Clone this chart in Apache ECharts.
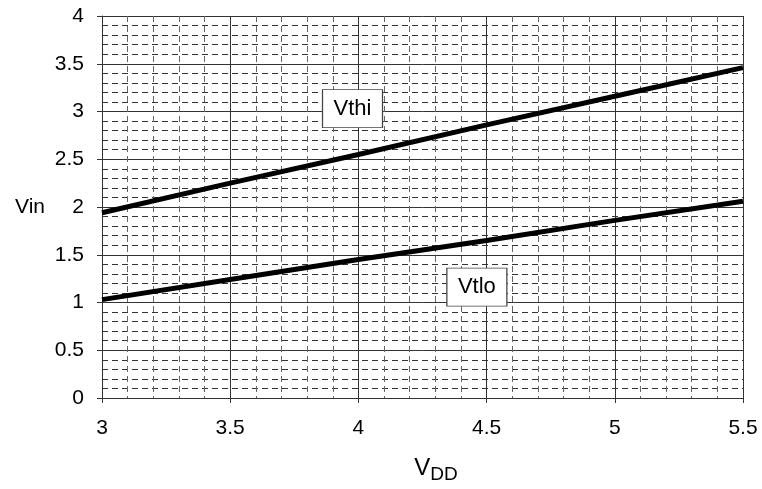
<!DOCTYPE html>
<html><head><meta charset="utf-8">
<script src="https://cdn.jsdelivr.net/npm/echarts@6/dist/echarts.min.js"></script>
<style>html,body{margin:0;padding:0;background:#fff}#c{width:762px;height:489px}</style>
</head><body><div id="c"></div>
<script>
const vdd = [3, 3.5, 4, 4.5, 5, 5.5];
const vthi = [1.94, 2.25, 2.55, 2.86, 3.16, 3.46];
const vtlo = [1.03, 1.24, 1.45, 1.65, 1.86, 2.06];
const xTicks = [3, 3.5, 4, 4.5, 5, 5.5];
const yTicks = [0, 0.5, 1, 1.5, 2, 2.5, 3, 3.5, 4];
const labelVthi = {name: 'Vthi', coord: [3.977, 3.03]};
const labelVtlo = {name: 'Vtlo', coord: [4.462, 1.16]};

const font = 'Liberation Sans, Arial, sans-serif';
const chart = echarts.init(document.getElementById('c'));
function box(lbl) {
  return {
    coord: lbl.coord, value: lbl.name,
    symbol: 'rect', symbolSize: [60, 38],
    itemStyle: {color: '#fff', borderColor: '#444', borderWidth: 1},
    label: {show: true, position: 'inside', formatter: lbl.name, color: '#000', fontSize: 22, fontFamily: font}
  };
}
chart.setOption({
  animation: false,
  grid: {left: 102, right: 19, top: 16, bottom: 91},
  xAxis: {
    type: 'value', min: 3, max: 5.5, interval: 0.5,
    name: '{a|V}{b|DD}', nameLocation: 'middle', nameGap: 55,
    nameTextStyle: {rich: {a: {fontSize: 24, fontFamily: font, color: '#000', padding: [0,0,0,27]}, b: {fontSize: 19, fontFamily: font, color: '#000', verticalAlign: 'bottom', padding: [12,0,0,0]}}},
    axisLine: {show: true, lineStyle: {color: '#333', width: 1}},
    axisTick: {show: true, length: 5, inside: false, lineStyle: {color: '#333'}},
    axisLabel: {fontSize: 21, fontFamily: font, color: '#000', margin: 20,
      formatter: v => xTicks.includes(+v.toFixed(2)) ? String(+v.toFixed(2)) : ''},
    splitLine: {show: true, lineStyle: {color: '#333', width: 1}},
    minorTick: {show: false, splitNumber: 5},
    minorSplitLine: {show: true, lineStyle: {color: '#666', width: 1, type: [6, 4]}}
  },
  yAxis: {
    type: 'value', min: 0, max: 4, interval: 0.5,
    name: 'Vin', nameLocation: 'middle', nameGap: 57, nameRotate: 0,
    nameTextStyle: {fontSize: 21, fontFamily: font, color: '#000'},
    axisLine: {show: true, lineStyle: {color: '#333', width: 1}},
    axisTick: {show: true, length: 5, inside: false, lineStyle: {color: '#333'}},
    axisLabel: {fontSize: 21, fontFamily: font, color: '#000', margin: 18,
      formatter: v => yTicks.includes(+v.toFixed(2)) ? String(+v.toFixed(2)) : ''},
    splitLine: {show: true, lineStyle: {color: '#333', width: 1}},
    minorTick: {show: false, splitNumber: 5},
    minorSplitLine: {show: true, lineStyle: {color: '#333', width: 1, type: [6, 4]}}
  },
  series: [
    {name: 'Vthi', type: 'line', data: vdd.map((x, i) => [x, vthi[i]]), symbol: 'none',
      lineStyle: {color: '#000', width: 5}, z: 5,
      markPoint: {data: [box(labelVthi)], z: 10}},
    {name: 'Vtlo', type: 'line', data: vdd.map((x, i) => [x, vtlo[i]]), symbol: 'none',
      lineStyle: {color: '#000', width: 5}, z: 5,
      markPoint: {data: [box(labelVtlo)], z: 10}}
  ]
});
</script></body></html>
